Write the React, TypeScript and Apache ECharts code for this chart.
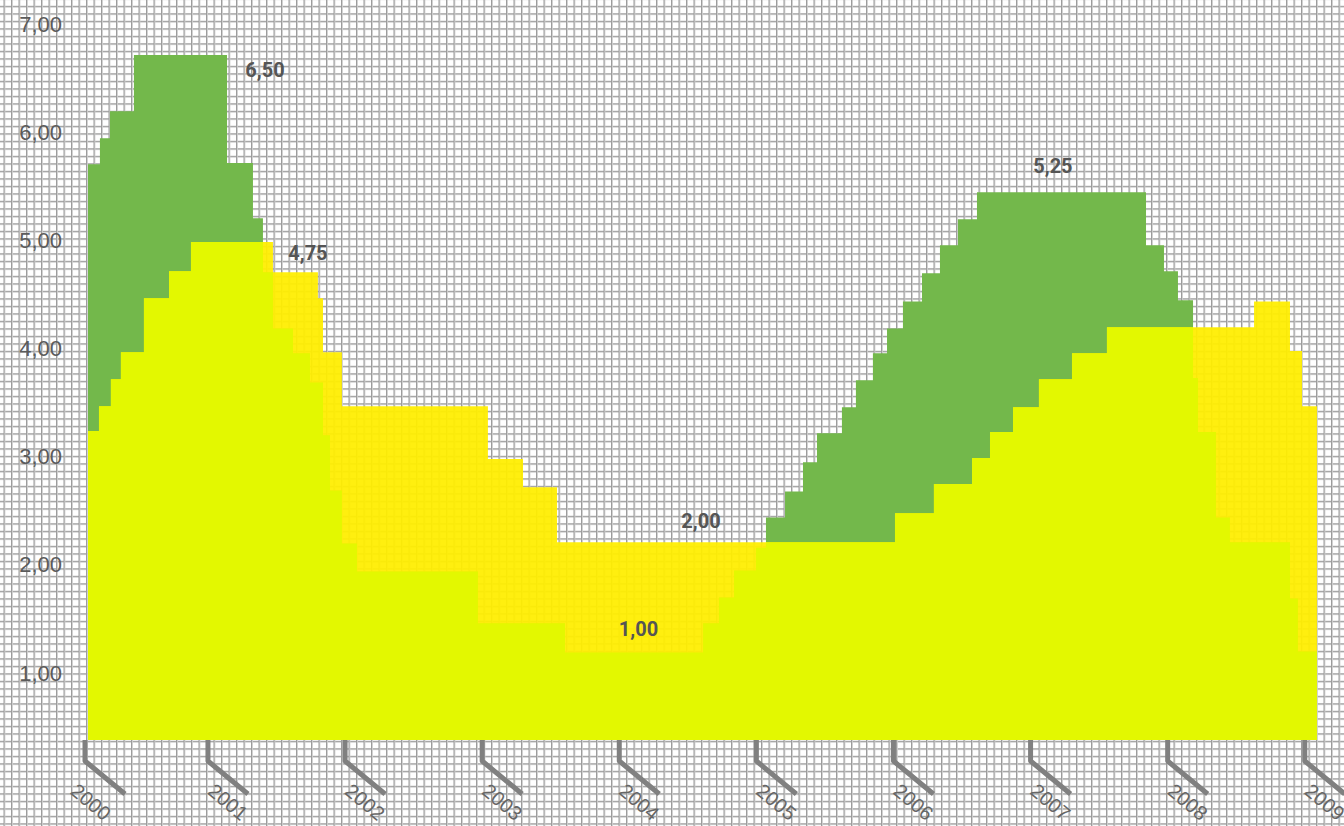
import React, { useEffect, useRef } from "react";
import * as echarts from "echarts";

// US Fed funds rate (green) – step start dates (fractional years) and rates
const fedDates = [
  2000.125, 2000.212, 2000.285, 2000.46, 2001.139, 2001.328, 2001.401, 2001.474,
  2001.62, 2001.744, 2001.839, 2001.89, 2001.977, 2002.087, 2002.969, 2003.604,
  2004.611, 2004.727, 2004.837, 2004.997, 2005.07, 2005.209, 2005.34, 2005.442,
  2005.624, 2005.726, 2005.85, 2005.953, 2006.069, 2006.208, 2006.339, 2006.47,
  2006.609, 2007.842, 2007.973, 2008.075, 2008.185, 2008.221, 2008.352, 2008.454,
  2008.892, 2008.95, 2009.089,
];
const fedRates = [
  5.71, 5.95, 6.2, 6.72, 5.72, 5.21, 4.71, 4.19,
  3.96, 3.69, 3.2, 2.69, 2.2, 1.94, 1.46, 1.19,
  1.46, 1.7, 1.95, 2.16, 2.44, 2.68, 2.95, 3.22,
  3.46, 3.71, 3.96, 4.19, 4.44, 4.7, 4.96, 5.2,
  5.45, 4.96, 4.72, 4.45, 3.73, 3.23, 2.44, 2.21,
  1.69, 1.2, 1.2,
];

// ECB main refinancing rate (yellow)
const ecbDates = [
  2000.125, 2000.205, 2000.292, 2000.365, 2000.533, 2000.716, 2000.876, 2001.474,
  2001.802, 2001.839, 2001.977, 2003.042, 2003.298, 2003.546, 2006.011, 2006.295,
  2006.573, 2006.704, 2006.872, 2007.061, 2007.302, 2007.557, 2008.63, 2008.892,
  2008.98, 2009.089,
];
const ecbRates = [
  3.24, 3.47, 3.72, 3.97, 4.47, 4.72, 4.99, 4.71,
  4.47, 3.97, 3.47, 2.98, 2.72, 2.21, 2.48, 2.75,
  2.99, 3.23, 3.46, 3.72, 3.96, 4.2, 4.44, 3.98,
  3.47, 3.47,
];

const yTickValues = [1, 2, 3, 4, 5, 6, 7];
const xTickYears = [2000, 2001, 2002, 2003, 2004, 2005, 2006, 2007, 2008, 2009];
const xTickLabels = ["2000", "2001", "2002", "2003", "2004", "2005", "2006", "2007", "2008", "2009"];

const annotationTexts = ["6,50", "4,75", "2,00", "1,00", "5,25"];
const annotationDates = [2001.416, 2001.729, 2004.596, 2004.14, 2007.163];
const annotationRates = [6.58, 4.89, 2.41, 1.41, 5.69];

const Y_MIN = 0.38;
const Y_MAX = 7.23;
const X_MIN = 2000.125;
const X_MAX = 2009.2;

function stepValue(dates: number[], rates: number[], x: number): number {
  let v = rates[0];
  for (let i = 0; i < dates.length; i++) {
    if (dates[i] <= x) v = rates[i];
  }
  return v;
}

function buildMin(): number[][] {
  const xs = Array.from(new Set([...fedDates, ...ecbDates])).sort((a, b) => a - b);
  return xs.map((x) => [x, Math.min(stepValue(fedDates, fedRates, x), stepValue(ecbDates, ecbRates, x))]);
}

export default function App() {
  const ref = useRef<HTMLDivElement>(null);

  useEffect(() => {
    if (!ref.current) return;
    const chart = echarts.init(ref.current, undefined, { renderer: "svg" });

    const fedData = fedDates.map((d, i) => [d, fedRates[i]]);
    const ecbData = ecbDates.map((d, i) => [d, ecbRates[i]]);
    const minData = buildMin();

    chart.setOption({
      animation: false,
      backgroundColor: "transparent",
      grid: { left: 88, right: 11.8, top: 0, bottom: 86 },
      xAxis: {
        type: "value",
        min: X_MIN,
        max: X_MAX,
        axisLine: { show: false },
        axisTick: { show: false },
        axisLabel: { show: false },
        splitLine: { show: false },
      },
      yAxis: {
        type: "value",
        min: Y_MIN,
        max: Y_MAX,
        axisLine: { show: false },
        axisTick: { show: false },
        splitLine: { show: false },
        axisLabel: {
          customValues: yTickValues,
          margin: 26,
          fontSize: 22,
          color: "#5b5b5b",
          fontFamily: "Liberation Sans, Arial, sans-serif",
          formatter: (v: number) => v.toFixed(2).replace(".", ","),
        },
      },
      series: [
        {
          type: "line",
          step: "end",
          data: fedData,
          symbol: "none",
          lineStyle: { width: 0 },
          areaStyle: { color: "#73b84b", opacity: 1, origin: "start" },
          z: 1,
          silent: true,
        },
        {
          type: "line",
          step: "end",
          data: ecbData,
          symbol: "none",
          lineStyle: { width: 0 },
          areaStyle: { color: "#ffee00", opacity: 0.94, origin: "start" },
          z: 2,
          silent: true,
        },
        {
          type: "line",
          step: "end",
          data: minData,
          symbol: "none",
          lineStyle: { width: 0 },
          areaStyle: { color: "#e3f800", opacity: 1, origin: "start" },
          z: 3,
          silent: true,
        },
        {
          type: "custom",
          clip: false,
          silent: true,
          z: 10,
          data: xTickYears.map((y, i) => [y, Y_MIN, i]),
          renderItem: (params: any, api: any) => {
            const year = api.value(0);
            const idx = api.value(2);
            const p = api.coord([year, Y_MIN]);
            const startX = api.coord([fedDates[0], Y_MIN])[0] - 3;
            const lx = Math.max(p[0], startX);
            const by = p[1];
            return {
              type: "group",
              children: [
                {
                  type: "polyline",
                  shape: { points: [[lx, by], [lx, by + 21], [lx + 40, by + 54]] },
                  style: { stroke: "#808080", lineWidth: 5, fill: "none", lineJoin: "round" },
                },
                {
                  type: "text",
                  x: p[0] + 20,
                  y: by + 62,
                  rotation: -40 * Math.PI / 180,
                  style: {
                    text: xTickLabels[idx],
                    fill: "#666666",
                    fontSize: 20,
                    fontFamily: "Liberation Sans, Arial, sans-serif",
                    align: "center",
                    verticalAlign: "middle",
                  },
                },
              ],
            };
          },
        },
        {
          type: "custom",
          clip: false,
          silent: true,
          z: 11,
          data: annotationDates.map((d, i) => [d, annotationRates[i], i]),
          renderItem: (params: any, api: any) => {
            const p = api.coord([api.value(0), api.value(1)]);
            return {
              type: "text",
              x: p[0],
              y: p[1],
              style: {
                text: annotationTexts[api.value(2)],
                fill: "#555555",
                fontSize: 20,
                fontWeight: "bold",
                fontFamily: "Roboto, Liberation Sans, sans-serif",
                align: "center",
                verticalAlign: "middle",
              },
            };
          },
        },
      ],
    });

    return () => chart.dispose();
  }, []);

  return (
    <div
      ref={ref}
      style={{
        position: "fixed",
        left: 0,
        top: 0,
        width: 1344,
        height: 826,
        backgroundColor: "#ffffff",
        backgroundImage:
          "linear-gradient(to right, #9a9a9a 0px, #9a9a9a 1px, #cdcdcd 1px, #cdcdcd 2px, transparent 2px), linear-gradient(to bottom, #9a9a9a 0px, #9a9a9a 1px, #cdcdcd 1px, #cdcdcd 2px, transparent 2px)",
        backgroundSize: "7.5px 7.5px",
        backgroundPosition: "3.5px 5.8px",
      }}
    />
  );
}
